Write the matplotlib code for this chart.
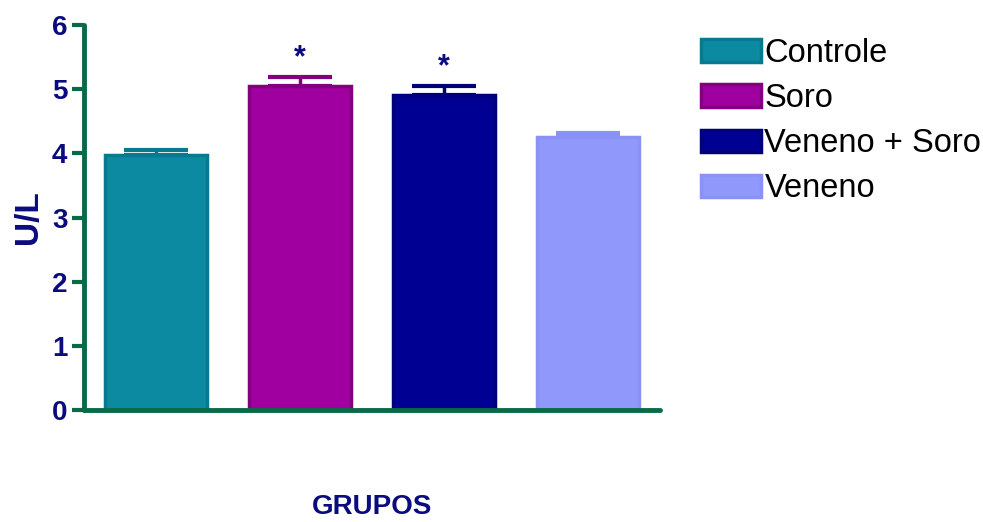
import numpy as np
import matplotlib.pyplot as plt

plt.rcParams['font.family'] = ['Liberation Sans', 'DejaVu Sans']

grupos = ['Controle', 'Soro', 'Veneno + Soro', 'Veneno']
valores = [3.97, 5.05, 4.91, 4.25]
erros = [0.08, 0.14, 0.14, 0.07]
sig = ['', '*', '*', '']
cores = ['#0b8aa2', '#a0009f', '#000092', '#9098fc']
bordas = ['#087a8f', '#820080', '#00007a', '#8a92f5']

navy = '#0b0b80'
verde = '#086a46'

fig = plt.figure(figsize=(9.83, 5.22), dpi=100)
ax = fig.add_axes([0.0855, 0.2146, 0.586, 0.7374])

x = np.arange(len(grupos))
for i in range(len(grupos)):
    ax.bar(x[i], valores[i], width=0.71, color=cores[i], edgecolor=bordas[i],
           linewidth=2.5, label=grupos[i], zorder=2)
    ax.errorbar(x[i], valores[i], yerr=[[0], [erros[i]]], color=bordas[i],
                elinewidth=2.5, capsize=23, capthick=3, zorder=1)
    if sig[i]:
        ax.text(x[i], valores[i] + erros[i] + 0.06, sig[i], ha='center', va='bottom',
                fontsize=22, fontweight='bold', color=navy)

ax.set_xlim(-0.5, 3.5)
ax.set_ylim(0, 6)
ax.set_yticks(range(7))
ax.set_xticks([])
for s in ['top', 'right']:
    ax.spines[s].set_visible(False)
for s in ['left', 'bottom']:
    ax.spines[s].set_color(verde)
    ax.spines[s].set_linewidth(3.5)
    ax.spines[s].set_capstyle('round')
ax.tick_params(axis='y', colors=verde, width=3, length=9, labelcolor=navy, pad=3)
for lab in ax.get_yticklabels():
    lab.set_fontsize(20)
    lab.set_fontweight('bold')
ax.set_ylabel('U/L', fontsize=24, fontweight='bold', color=navy, labelpad=6)
fig.text(0.378, 0.003, 'GRUPOS', ha='center', va='bottom', fontsize=20,
         fontweight='bold', color=navy)

fig.legend(loc='upper left', bbox_to_anchor=(0.700, 0.952), frameon=False,
           fontsize=23.5, handlelength=1.84, handleheight=0.68, labelspacing=0.43,
           handletextpad=0.1, borderaxespad=0)

fig.savefig('out.png', dpi=100)
